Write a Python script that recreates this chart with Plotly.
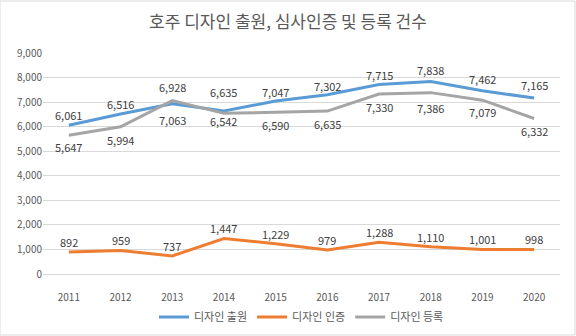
import plotly.graph_objects as go

years = [2011, 2012, 2013, 2014, 2015, 2016, 2017, 2018, 2019, 2020]
applications = [6061, 6516, 6928, 6635, 7047, 7302, 7715, 7838, 7462, 7165]
certifications = [892, 959, 737, 1447, 1229, 979, 1288, 1110, 1001, 998]
registrations = [5647, 5994, 7063, 6542, 6590, 6635, 7330, 7386, 7079, 6332]
names = ["디자인 출원", "디자인 인증", "디자인 등록"]
colors = ["#5B9BD5", "#ED7D31", "#A5A5A5"]

# label offsets in pixels (styling only)
shift_app = [10, 10, 17, 19, 9, 9, 10, 12, 12, 13]
shift_cert = [10, 10, 10, 10, 10, 10, 10, 10, 10, 10]
shift_reg = [-12, -13, -19, -8, -13, -13, -13, -15, -12, -12]

font_family = "Noto Sans CJK KR, Noto Sans, sans-serif"

fig = go.Figure()
series = [applications, certifications, registrations]
shifts = [shift_app, shift_cert, shift_reg]
for name, vals, col, sh in zip(names, series, colors, shifts):
    fig.add_trace(go.Scatter(
        x=years, y=vals, name=name, mode="lines",
        line=dict(color=col, width=3),
    ))
    for x, v, s in zip(years, vals, sh):
        fig.add_annotation(x=x, y=v, text=f"{v:,}", showarrow=False,
                           yshift=s, xref="x", yref="y",
                           font=dict(size=11, color="#404040", family=font_family))

fig.update_layout(
    width=576, height=336,
    margin=dict(l=43, r=16, t=53, b=62, autoexpand=False),
    paper_bgcolor="white", plot_bgcolor="white",
    title=dict(text="호주 디자인 출원, 심사인증 및 등록 건수", x=0.5, xanchor="center",
               y=0.935, yanchor="middle",
               font=dict(size=17, color="#595959", family=font_family)),
    font=dict(family=font_family, color="#595959"),
    xaxis=dict(range=[years[0] - 0.5, years[-1] + 0.5], tickvals=years,
               ticktext=[str(y) for y in years],
               showgrid=False, showline=True, linecolor="#D9D9D9", zeroline=False,
               ticks="", ticklabelstandoff=14, tickfont=dict(size=10, color="#595959")),
    yaxis=dict(range=[0, 9000], dtick=1000, tickformat=",", showgrid=True,
               gridcolor="#D9D9D9", zeroline=False, ticks="",
               tickfont=dict(size=10, color="#595959")),
    legend=dict(orientation="h", x=0.5, xanchor="center", y=-0.195, yanchor="middle",
                font=dict(size=11, color="#595959")),
    showlegend=True,
)
fig.add_shape(type="rect", xref="paper", yref="paper",
              x0=-43/517, x1=1+15/517, y0=-61/221, y1=1+52/221,
              line=dict(color="#D9D9D9", width=1))

fig.write_html("out.html")
